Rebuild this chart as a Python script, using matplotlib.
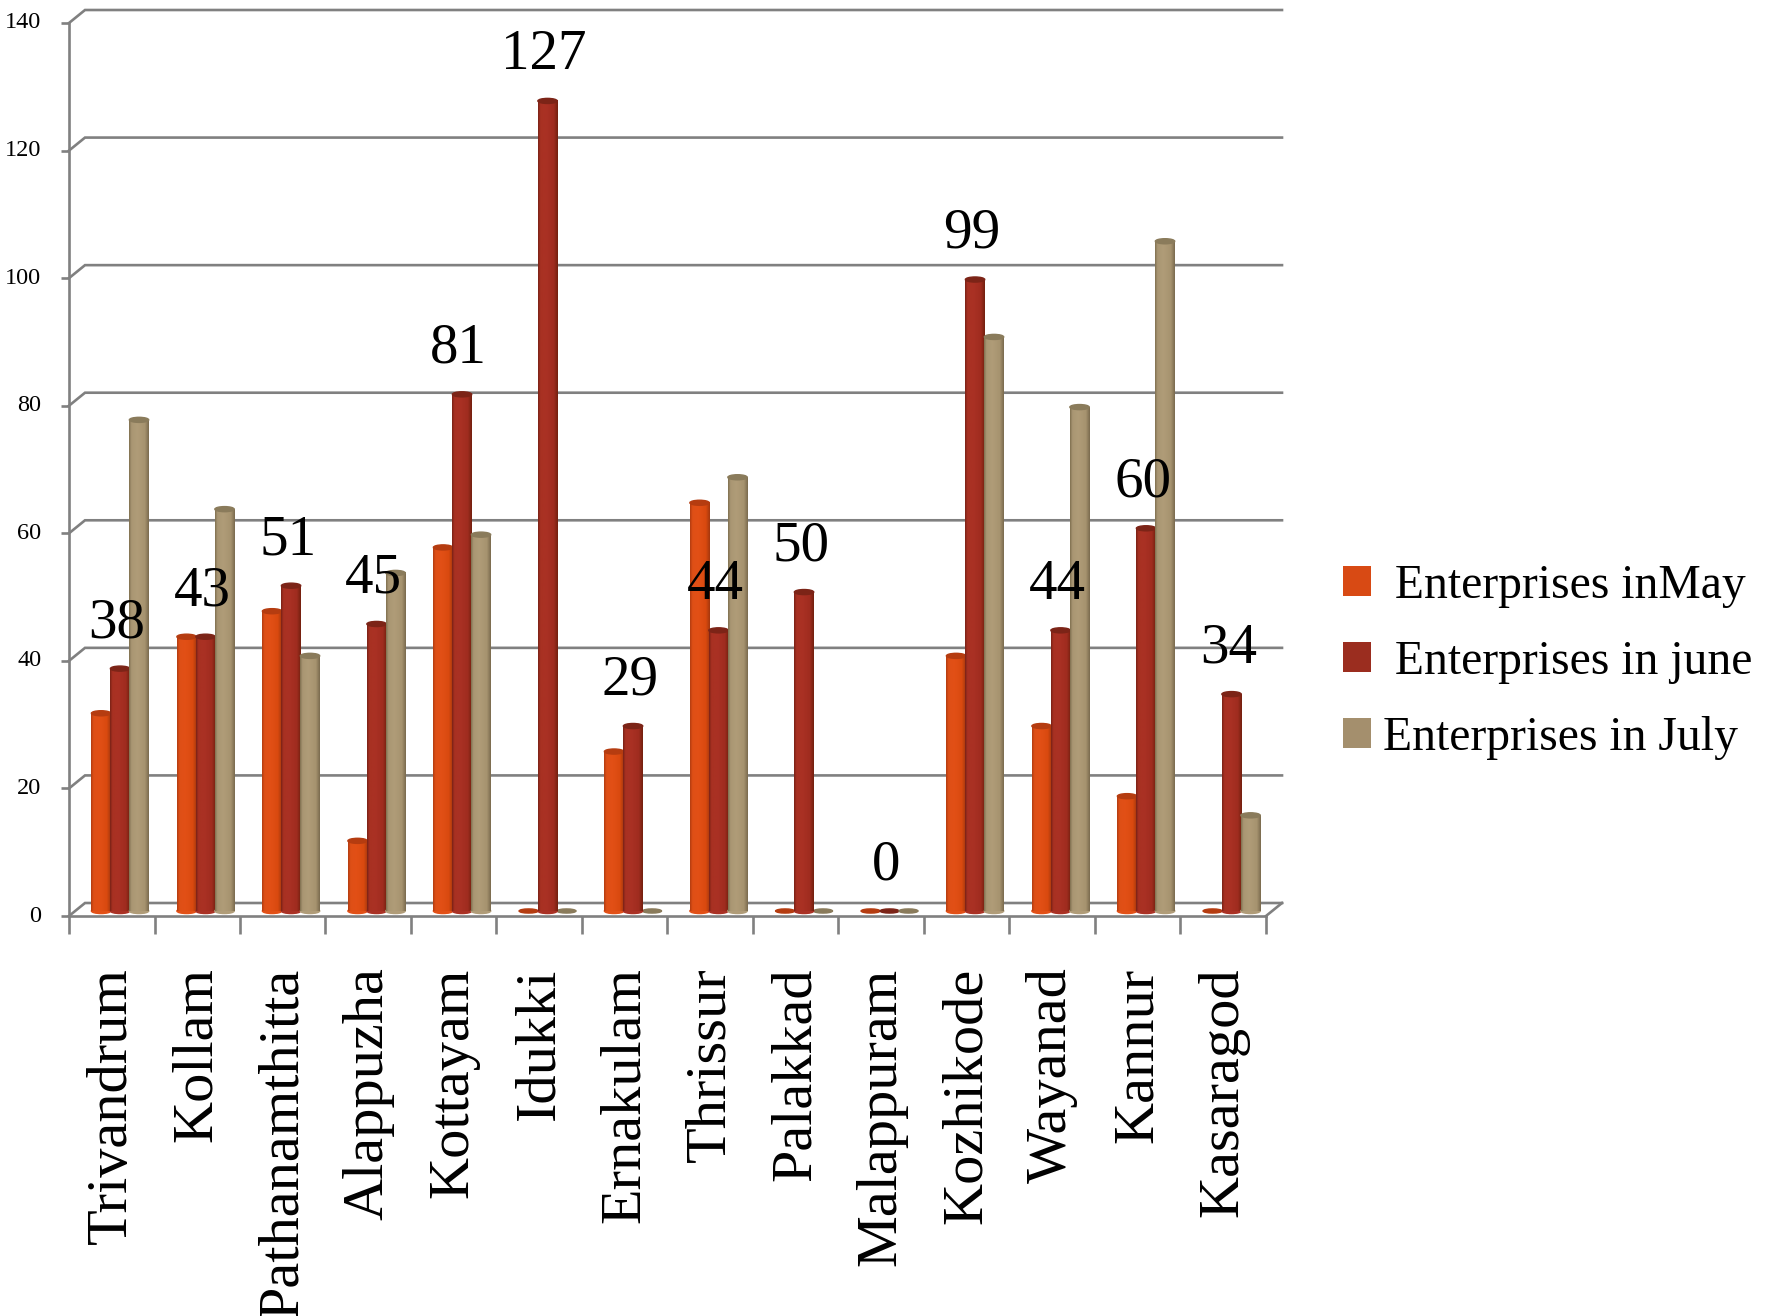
import numpy as np
import matplotlib
matplotlib.use("Agg")
import matplotlib.pyplot as plt
from matplotlib.patches import Ellipse, Patch
from matplotlib.lines import Line2D
from matplotlib.transforms import Affine2D, IdentityTransform
from matplotlib.colors import to_rgb

districts = ["Trivandrum", "Kollam", "Pathanamthitta", "Alappuzha", "Kottayam", "Idukki",
             "Ernakulam", "Thrissur", "Palakkad", "Malappuram", "Kozhikode", "Wayanad",
             "Kannur", "Kasaragod"]
may = [31, 43, 47, 11, 57, 0, 25, 64, 0, 0, 40, 29, 18, 0]
june = [38, 43, 51, 45, 81, 127, 29, 44, 50, 0, 99, 44, 60, 34]
july = [77, 63, 40, 53, 59, 0, 0, 68, 0, 0, 90, 79, 105, 15]
series_labels = [" Enterprises inMay", " Enterprises in june", "Enterprises in July"]
y_ticks = [0, 20, 40, 60, 80, 100, 120, 140]

W, H = 1781, 1316
plt.rcParams["font.family"] = ["Liberation Serif", "DejaVu Serif"]
fig = plt.figure(figsize=(W / 100, H / 100), dpi=100, facecolor="white")
L, R, B, T_ = 69, 1266, 916, 23
ax = fig.add_axes([L / W, 1 - B / H, (R - L) / W, (B - T_) / H])
ax.set_facecolor("none")
GREY = "#808080"
LW = 1.9
for s in ("top", "right"):
    ax.spines[s].set_visible(False)
for s in ("left", "bottom"):
    ax.spines[s].set_color(GREY)
    ax.spines[s].set_linewidth(LW)

# back wall and floor, shifted by the depth of the 3D box
DX, DY = 16, 13
to_px = ax.transData.transform
ident = IdentityTransform()


def build():
    ax.set_xlim(0, 14)
    ax.set_ylim(0, 140)


build()
for v in y_ticks:
    x0, y0 = to_px((0, v))
    x1, y1 = to_px((14, v))
    ax.add_line(Line2D([x0, x0 + DX, x1 + DX], [y0, y0 + DY, y1 + DY], color=GREY, lw=LW,
                       transform=ident, clip_on=False, zorder=1, solid_joinstyle="miter"))
x0, y0 = to_px((14, 0))
ax.add_line(Line2D([x0, x0 + DX], [y0, y0 + DY], color=GREY, lw=LW, transform=ident,
                   clip_on=False, zorder=1))

# bars stand a little behind the front edge of the floor
T = ax.transData + Affine2D().translate(8.3, 5)

styles = [
    dict(c="#D84A14", g=["#B23C10", "#DE4F16", "#E25016", "#D9490F", "#A5380E"], top="#B53C10"),
    dict(c="#9B2D1F", g=["#7A2216", "#A83122", "#AA3124", "#9F2C1F", "#73200F"], top="#7C2417"),
    dict(c="#A48F6D", g=["#7F7050", "#A99673", "#B09C78", "#A6936F", "#7A6B4E"], top="#8A7B5B"),
]
stops = np.array([0, 0.12, 0.42, 0.8, 1.0])
BW = 0.222
x = np.arange(len(districts)) + 0.5
for k, (vals, st) in enumerate(zip([may, june, july], styles)):
    z = 3 + k
    xs = x + (k - 1) * BW
    bars = ax.bar(xs, vals, BW * 1.02, color=st["c"], transform=T, zorder=z, clip_on=False)
    rgb = np.array([to_rgb(c) for c in st["g"]])
    pos = np.linspace(0, 1, 64)
    grad = np.stack([np.interp(pos, stops, rgb[:, i]) for i in range(3)], axis=-1)[None, :, :]
    for rect, v, cx in zip(bars, vals, xs):
        w = rect.get_width()
        if v > 0:
            ax.add_patch(Ellipse((cx, 0), w, 0.8, color=st["g"][2], transform=T, zorder=z, clip_on=False))
            im = ax.imshow(grad, extent=(cx - w / 2, cx + w / 2, 0, v), aspect="auto", zorder=z + 0.05,
                           interpolation="bilinear")
            im.set_transform(T)
            im.set_clip_on(False)
            ax.add_patch(Ellipse((cx, v), w, 0.8, color=st["top"], transform=T, zorder=z + 0.1, clip_on=False))
        else:
            ax.add_patch(Ellipse((cx, 0), w * 0.98, 0.65, color=st["top"], transform=T, zorder=z - 1.5, clip_on=False))
build()

for cx, v in zip(x, june):
    ax.annotate(str(v), (cx, v), xytext=(5, 50.6), textcoords="offset pixels",
                ha="center", va="center", fontsize=41, color="black", zorder=10,
                annotation_clip=False)

ax.set_xticks(np.arange(len(districts) + 1), [""] * (len(districts) + 1))
ax.tick_params(axis="x", which="major", length=13, width=LW, color=GREY)
ax.set_xticks(x, districts, minor=True)
ax.tick_params(axis="x", which="minor", length=0, pad=37, labelsize=42, labelrotation=90)
for lab in ax.get_xticklabels(minor=True):
    lab.set_va("top")
    lab.set_ha("center")
ax.set_yticks(y_ticks)
ax.tick_params(axis="y", length=6, width=LW, color=GREY, pad=14, labelsize=17.5)
for lab in ax.get_yticklabels():
    lab.set_va("center")

handles = [Patch(facecolor=s["c"], edgecolor="none") for s in styles]
leg = ax.legend(handles, series_labels, loc="upper left", bbox_to_anchor=(1343 / W, 1 - 564 / H),
                bbox_transform=fig.transFigure, frameon=False, fontsize=34.3, borderpad=0, borderaxespad=0,
                handlelength=0.58, handleheight=0.58, handletextpad=0.25, labelspacing=0.67)
fig.savefig("out.png", dpi=100, facecolor="white")
